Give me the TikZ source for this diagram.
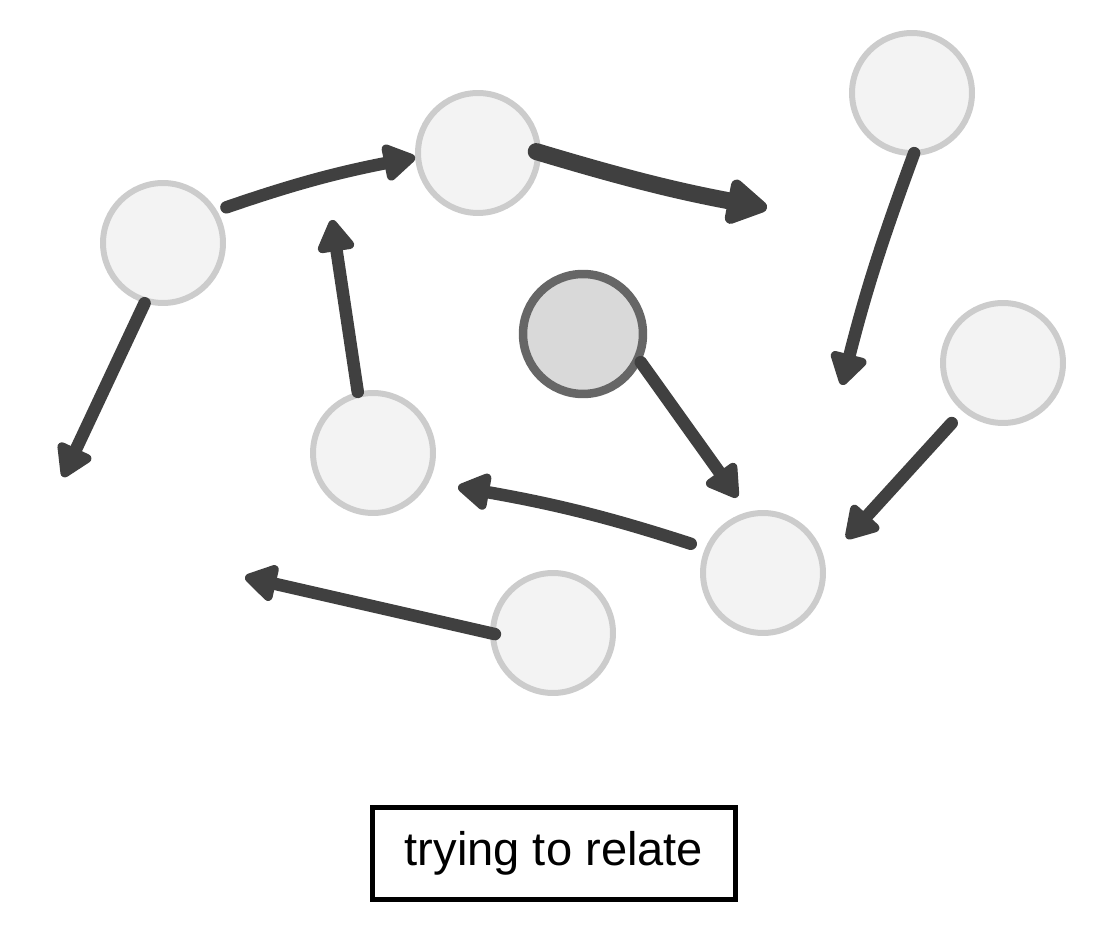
\documentclass[tikz,border=0pt]{standalone}
\usepackage{fontspec}
\setmainfont{Liberation Sans}
\usepackage{tikz}
\usetikzlibrary{arrows.meta}
\definecolor{ink}{HTML}{404040}
\definecolor{rimgray}{HTML}{CCCCCC}
\definecolor{fillgray}{HTML}{F3F3F3}
\definecolor{coregray}{HTML}{D9D9D9}
\definecolor{corerim}{HTML}{666666}
\tikzstyle{blob}=[draw=rimgray, fill=fillgray, shape=circle, line width=0.12cm, minimum size=2.4cm, inner sep=0pt]
\tikzstyle{core}=[blob, draw=corerim, fill=coregray, line width=0.17cm]
\tikzstyle{rel}=[draw=ink, line width=0.25cm, line cap=round, ->]
\tikzstyle{caption}=[draw=black, line width=0.1cm, shape=rectangle, minimum width=7.26cm, minimum height=1.84cm, font=\fontsize{26.8}{32}\selectfont]
\tikzset{>={Triangle[round, length=0.72cm, width=0.82cm]}}

\begin{document}
\begin{tikzpicture}[x=0.02cm, y=0.02cm]
\useasboundingbox (0,0) rectangle (1098,933);
% the plain circles
\node[blob] (P0) at (163,690) {};
\node[blob] (P1) at (478,780) {};
\node[blob] (P2) at (912,840) {};
\node[blob] (P3) at (1003,570) {};
\node[blob] (P4) at (373,480) {};
\node[blob] (P5) at (763,360) {};
\node[blob] (P6) at (553,300) {};
% the darker circle in the middle
\node[core] (C) at (583,599) {};
% the free ends of the arrows
\coordinate (T2) at (767,725);
\coordinate (T3) at (842,548);
\coordinate (T4) at (63,456);
\coordinate (T5) at (332,713);
\coordinate (T8) at (458,446);
\coordinate (T9) at (245,356);
% the arrows
\draw[rel, shorten <=0.2cm] (P0.31) to[bend left=4] (P1.184);
\draw[rel, line width=0.34cm, -{Triangle[round, length=0.92cm, width=1.0cm]}, shorten <=-0.1cm] (P1.0) to[bend right=3] (T2);
\draw[rel, shorten <=-0.06cm] (P2.-89) to[bend right=3] (T3);
\draw[rel] (P0.253) -- (T4);
\draw[rel] (P4.104) -- (T5);
\draw[rel, shorten >=0.36cm] (C.-26) -- (P5.104);
\draw[rel, shorten <=0.32cm, shorten >=0.64cm] (P3.230) -- (P5.10);
\draw[rel, shorten <=0.3cm] (P5.157) to[bend right=4] (T8);
\draw[rel, shorten <=-0.1cm] (P6.180) -- (T9);
% the caption
\node[caption] (L) at (554,79.5) {trying to relate};
\end{tikzpicture}
\end{document}
